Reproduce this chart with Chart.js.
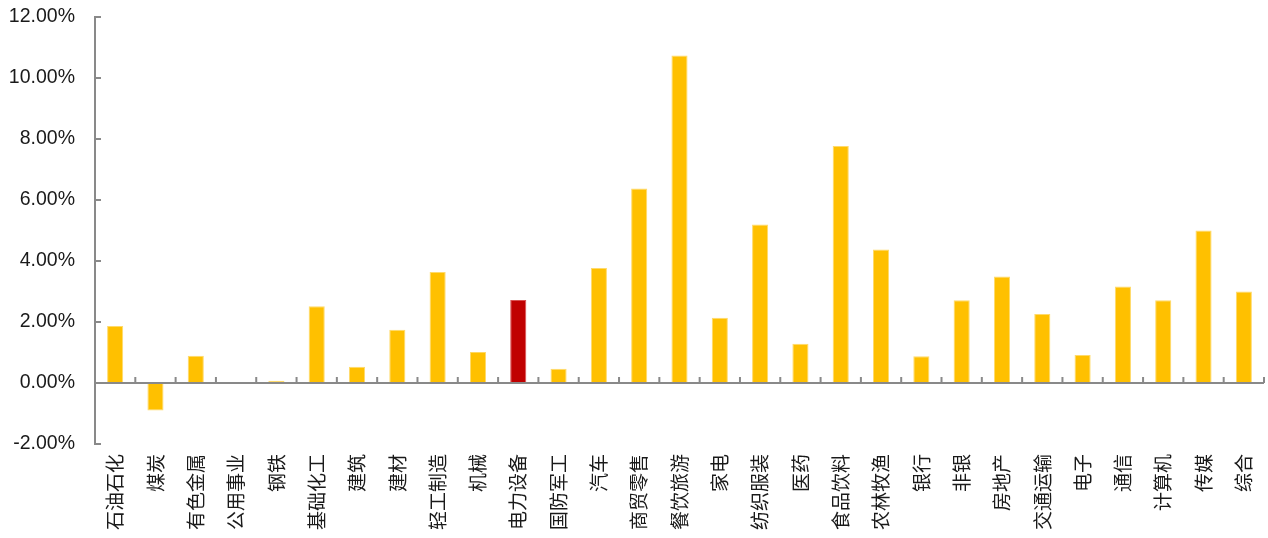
<!DOCTYPE html>
<html>
<head>
<meta charset="utf-8">
<script src="https://cdn.jsdelivr.net/npm/chart.js@4"></script>
<style>
  body { margin: 0; background: #fff; }
  #wrap { width: 1268px; height: 538px; position: relative; }
</style>
</head>
<body>
<div id="wrap"><canvas id="IndustryReturns"></canvas></div>
<script>
// Data block
const industryLabels = ['石油石化', '煤炭', '有色金属', '公用事业', '钢铁', '基础化工', '建筑', '建材', '轻工制造', '机械',
    '电力设备', '国防军工', '汽车', '商贸零售', '餐饮旅游', '家电', '纺织服装', '医药', '食品饮料', '农林牧渔',
    '银行', '非银', '房地产', '交通运输', '电子', '通信', '计算机', '传媒', '综合'];
const industryReturns = [1.87, -0.90, 0.89, 0.0, 0.07, 2.52, 0.53, 1.75, 3.64, 1.02,
    2.72, 0.47, 3.77, 6.38, 10.74, 2.14, 5.20, 1.29, 7.77, 4.38,
    0.88, 2.71, 3.49, 2.26, 0.92, 3.16, 2.71, 5.00, 3.00];
const highlightLabel = '电力设备';
const yTicksMin = -2;
const yTicksMax = 12;
const yTicksStep = 2;

const axisColor = '#898989';

// Setup block
const industryData = {
    labels: industryLabels,
    datasets: [{
        label: '涨跌幅',
        data: industryReturns,
        backgroundColor: industryLabels.map(l => l === highlightLabel ? '#C00000' : '#FFC000'),
        borderColor: industryLabels.map(l => l === highlightLabel ? '#D95050' : '#FFDA6A'),
        borderWidth: 1,
        barPercentage: 0.4,
        categoryPercentage: 1.0,
    }]
};

// Axis marks plugin block: zero line, category ticks and inner y ticks
const axisMarks = {
    id: 'axisMarks',
    afterDatasetsDraw(chart) {
        const {ctx, chartArea, scales: {x, y}} = chart;
        const y0 = y.getPixelForValue(0);
        const n = industryLabels.length;
        const step = (chartArea.right - chartArea.left) / n;
        ctx.save();
        ctx.strokeStyle = axisColor;
        ctx.lineWidth = 2;
        ctx.beginPath();
        ctx.moveTo(chartArea.left, y0);
        ctx.lineTo(chartArea.right, y0);
        for (let i = 1; i <= n; i++) {
            const px = chartArea.left + i * step;
            ctx.moveTo(px, y0);
            ctx.lineTo(px, y0 - 6);
        }
        y.ticks.forEach(t => {
            const py = y.getPixelForValue(t.value);
            ctx.moveTo(chartArea.left, py);
            ctx.lineTo(chartArea.left + 6, py);
        });
        ctx.stroke();
        ctx.restore();
    }
};

// Config block
const industryConfig = {
    type: 'bar',
    data: industryData,
    options: {
        responsive: true,
        maintainAspectRatio: false,
        animation: false,
        layout: {
            padding: {top: 17, right: 4, left: 0, bottom: 0}
        },
        plugins: {
            legend: {display: false},
            tooltip: {enabled: false}
        },
        scales: {
            x: {
                grid: {display: false, drawTicks: false},
                border: {display: false},
                ticks: {
                    autoSkip: false,
                    maxRotation: 90,
                    minRotation: 90,
                    padding: 10,
                    color: '#1a1a1a',
                    font: {family: '"Noto Sans CJK SC", sans-serif', size: 19}
                },
                afterFit(scale) {
                    scale.height = 94;
                    scale.paddingLeft = 0;
                    scale.paddingRight = 0;
                }
            },
            y: {
                min: yTicksMin,
                max: yTicksMax,
                grid: {display: false, drawTicks: false},
                border: {display: true, color: axisColor, width: 2},
                ticks: {
                    stepSize: yTicksStep,
                    padding: 20,
                    color: '#1a1a1a',
                    font: {family: '"Liberation Sans", Arial, sans-serif', size: 19.5},
                    callback: v => v.toFixed(2) + '%'
                },
                afterFit(scale) {
                    scale.width = 95;
                    scale.paddingTop = 0;
                    scale.paddingBottom = 0;
                }
            }
        }
    },
    plugins: [axisMarks]
};

// render / init block
const industryChart = new Chart(
    document.getElementById('IndustryReturns'),
    industryConfig
);
</script>
</body>
</html>
